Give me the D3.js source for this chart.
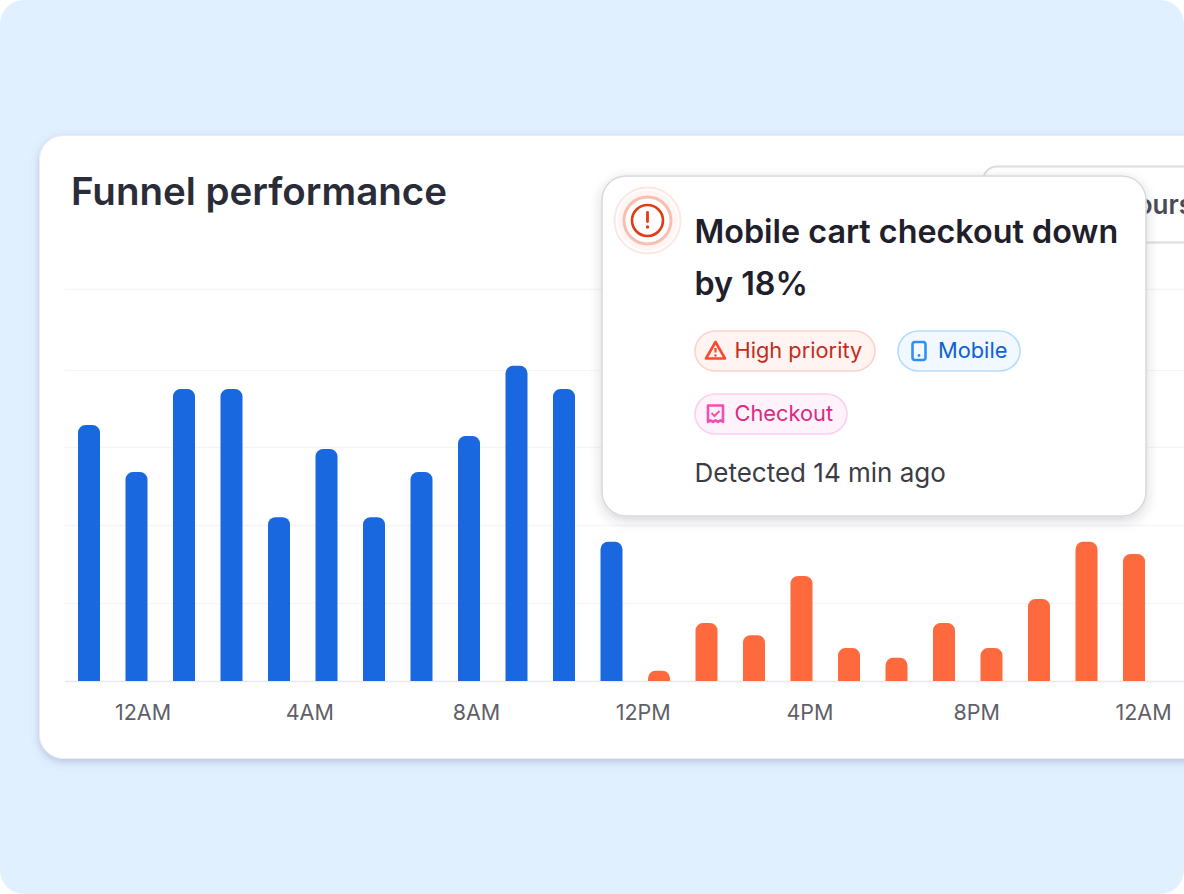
<!DOCTYPE html>
<html><head><meta charset="utf-8">
<script src="https://cdn.jsdelivr.net/npm/d3@7"></script>
<style>html,body{margin:0;padding:0;background:#fff;overflow:hidden}svg{display:block;font-family:Inter,sans-serif}</style>
</head><body><div id="chart"></div>
<script>
const title = "Funnel performance";
const tickLabels = ["12AM","4AM","8AM","12PM","4PM","8PM","12AM "];
const blueValues = [65.3,53.3,74.5,74.5,41.8,59.2,41.8,53.3,62.5,80.4,74.5,35.5];
const orangeValues = [2.6,14.8,11.7,26.8,8.4,5.9,14.8,8.4,20.9,35.5,32.4];
const gridValues = [0,19.9,39.8,59.7,79.3,100];
const alertLines = ["Mobile cart checkout down","by 18%"];
const detected = "Detected 14 min ago";

const W=1184,H=894;
const svg=d3.select("#chart").append("svg").attr("width",W).attr("height",H);
const defs=svg.append("defs");
function shadow(id,dy,blur,color,op){
  const f=defs.append("filter").attr("id",id).attr("x","-20%").attr("y","-20%").attr("width","140%").attr("height","140%");
  f.append("feDropShadow").attr("dx",0).attr("dy",dy).attr("stdDeviation",blur).attr("flood-color",color).attr("flood-opacity",op);
}
shadow("cardS",3,4,"#5a6a9a",0.32);
shadow("tipS",4,6,"#30304a",0.2);

svg.append("rect").attr("width",W).attr("height",H).attr("rx",24).attr("fill","#e1f0ff");
svg.append("rect").attr("x",39.5).attr("y",135.5).attr("width",1300).attr("height",623).attr("rx",24)
  .attr("fill","#fff").attr("stroke","#ececf3").attr("filter","url(#cardS)");
svg.append("text").attr("x",71).attr("y",205).attr("font-size",38.5).attr("font-weight",600).attr("fill","#2a2c38").text(title);

const allValues=blueValues.concat(orangeValues);
const series=allValues.map((v,i)=>({v,i,c:i<blueValues.length?"#1a68e0":"#ff693e"}));
const y=d3.scaleLinear().domain([0,100]).range([681,289]);
const x=d3.scaleBand().domain(d3.range(allValues.length)).range([78,78+47.5*allValues.length-25.5]).paddingInner(1-22/47.5).paddingOuter(0).align(0);

svg.append("g").selectAll("line").data(gridValues).join("line")
  .attr("x1",65).attr("x2",W).attr("y1",d=>y(d)+.5).attr("y2",d=>y(d)+.5)
  .attr("stroke",d=>d===0?"#e8e8f3":"#f5f5f9").attr("stroke-width",1.4);

const r=7.5;
svg.append("g").selectAll("path").data(series).join("path")
  .attr("fill",d=>d.c)
  .attr("d",d=>{const a=x(d.i),w=x.bandwidth(),t=y(d.v),b=y(0),q=Math.min(r,(b-t));
    return `M${a},${b}V${t+q}A${q},${q} 0 0 1 ${a+q},${t}H${a+w-q}A${q},${q} 0 0 1 ${a+w},${t+q}V${b}Z`;});

const tx=d3.scalePoint().domain(tickLabels).range([142.5,1143]);
const ax=svg.append("g").attr("transform","translate(0,700)").call(d3.axisBottom(tx).tickSize(0).tickPadding(3));
ax.select(".domain").remove();
ax.selectAll("text").attr("font-family","Inter,sans-serif").attr("font-size",21.5).attr("fill","#5f5f68").attr("dy","0.8em");

// time range button behind the alert
svg.append("rect").attr("x",983).attr("y",166.5).attr("width",300).attr("height",76).attr("rx",14).attr("fill","#fff").attr("stroke","#dcdce2").attr("stroke-width",2);
svg.append("text").attr("x",1193).attr("y",214).attr("text-anchor","end").attr("font-size",26).attr("font-weight",600).attr("fill","#4a4b55").text("Last 24 hours");

// alert card
const tip=svg.append("g");
tip.append("rect").attr("x",602).attr("y",176).attr("width",544).attr("height",340).attr("rx",24)
  .attr("fill","#fff").attr("stroke","#d9d9de").attr("stroke-width",1.6).attr("filter","url(#tipS)");
const ic=tip.append("g").attr("transform","translate(647.5,220.5)");
ic.append("circle").attr("r",33).attr("fill","#fff").attr("stroke","#fde6e3").attr("stroke-width",2);
ic.append("circle").attr("r",30).attr("fill","#fff6f4");
ic.append("circle").attr("r",23.5).attr("fill","#fff").attr("stroke","#f7bfb2").attr("stroke-width",3);
ic.append("circle").attr("r",15.5).attr("fill","none").attr("stroke","#e33a18").attr("stroke-width",2.6);
ic.append("line").attr("x1",0).attr("x2",0).attr("y1",-8).attr("y2",1).attr("stroke","#e33a18").attr("stroke-width",2.8).attr("stroke-linecap","round");
ic.append("circle").attr("cy",6.5).attr("r",1.7).attr("fill","#e33a18");
tip.selectAll("text.h").data(alertLines).join("text").attr("class","h").attr("x",694.5).attr("y",(d,i)=>243+i*52)
  .attr("font-size",32.3).attr("font-weight",600).attr("fill","#1f2029").text(d=>d);

function pill(x0,y0,w,fill,stroke,txt,color,tx0){
  const g=tip.append("g");
  g.append("rect").attr("x",x0+.5).attr("y",y0+.5).attr("width",w).attr("height",40).attr("rx",20.5).attr("fill",fill).attr("stroke",stroke).attr("stroke-width",1.6);
  g.append("text").attr("x",tx0).attr("y",y0+27.5).attr("font-size",21.8).attr("font-weight",400).attr("fill",color).text(txt);
  return g;
}
const g1=pill(694.5,330.5,180,"#fff4f2","#fed2ca","High priority","#c22d1b",734.5);
g1.append("path").attr("d","M715.5,342 L725,358.5 H706 Z").attr("fill","none").attr("stroke","#f9492f").attr("stroke-width",2.6).attr("stroke-linejoin","round");
g1.append("line").attr("x1",715.5).attr("x2",715.5).attr("y1",348).attr("y2",352.5).attr("stroke","#f9492f").attr("stroke-width",2.2);
g1.append("circle").attr("cx",715.5).attr("cy",355.5).attr("r",1.2).attr("fill","#f9492f");
const g2=pill(897.5,330.5,122,"#f1f8ff","#b5dcff","Mobile","#0f5fd8",938);
g2.append("rect").attr("x",912.5).attr("y",342).attr("width",13).attr("height",18).attr("rx",2.5).attr("fill","none").attr("stroke","#2f8ff5").attr("stroke-width",2.6);
g2.append("circle").attr("cx",919).attr("cy",355.5).attr("r",1.4).attr("fill","#2f8ff5");
const g3=pill(694.5,393.5,152,"#fff3fb","#fbcfee","Checkout","#dc2a83",734.5);
g3.append("path").attr("d","M708,405.5 H723 V422 l-2.5,-1.6 -2.5,1.6 -2.5,-1.6 -2.5,1.6 -2.5,-1.6 -2.5,1.6 Z").attr("fill","none").attr("stroke","#f24fb4").attr("stroke-width",2.6).attr("stroke-linejoin","round");
g3.append("path").attr("d","M711.5,413 l3,3 l5,-5").attr("fill","none").attr("stroke","#f24fb4").attr("stroke-width",2);

tip.append("text").attr("x",694.5).attr("y",481.5).attr("font-size",26).attr("fill","#3b3c45").text(detected);
</script></body></html>
